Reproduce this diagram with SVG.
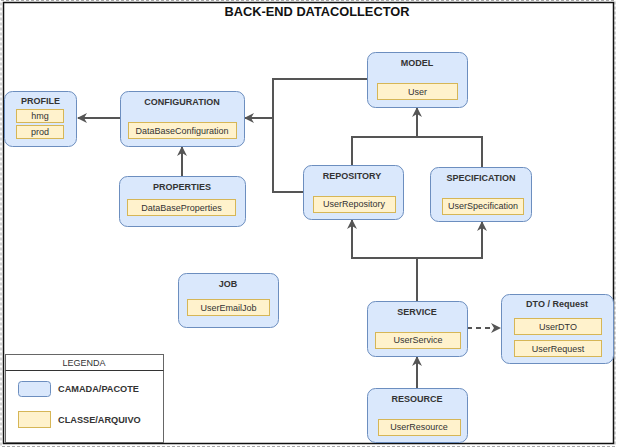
<svg xmlns="http://www.w3.org/2000/svg" width="617" height="448" viewBox="0 0 617 448">
<defs>
<style>
.pkg{fill:#dae8fc;stroke:#6c8ebf;stroke-width:1}
.cls{fill:#fff2cc;stroke:#d6b656;stroke-width:1}
.t{font-family:"Liberation Sans",Arial,sans-serif;font-size:9px;font-weight:bold;fill:#333;text-anchor:middle;dominant-baseline:central}
.c{font-family:"Liberation Sans",Arial,sans-serif;font-size:9px;fill:#333;text-anchor:middle;dominant-baseline:central}
.e{fill:none;stroke:#555;stroke-width:2}
</style>
<marker id="ah" viewBox="0 0 10 10" refX="9" refY="5" markerWidth="5" markerHeight="5" orient="auto" markerUnits="strokeWidth">
<path d="M0,0 L10,5 L0,10 L3,5 Z" fill="#555"/>
</marker>
</defs>
<rect x="0" y="0" width="617" height="448" fill="#fff"/>
<rect x="1" y="0.5" width="614" height="446" fill="none" stroke="#aaa" stroke-width="1" stroke-dasharray="3,2"/>
<rect x="3.5" y="2.5" width="610" height="441" fill="#fff" stroke="#111" stroke-width="1.5"/>
<text x="317" y="11" font-family="'Liberation Sans',Arial,sans-serif" font-size="12.8" font-weight="bold" fill="#111" text-anchor="middle" dominant-baseline="central">BACK-END DATACOLLECTOR</text>

<g id="connectors">
<path class="e" d="M120,118 L78,118" marker-end="url(#ah)"/>
<path class="e" d="M182,176 L182,147" marker-end="url(#ah)"/>
<path class="e" d="M367,79 L273,79 L273,192 L303,192"/>
<path class="e" d="M273,118 L245,118" marker-end="url(#ah)"/>
<path class="e" d="M352,165 L352,137 L482,137 L482,167"/>
<path class="e" d="M417,137 L417,108" marker-end="url(#ah)"/>
<path class="e" d="M417,301 L417,258 M352,258 L482,258"/>
<path class="e" d="M352,259 L352,220" marker-end="url(#ah)"/>
<path class="e" d="M482,259 L482,222" marker-end="url(#ah)"/>
<path class="e" d="M417,388 L417,357" marker-end="url(#ah)"/>
<path class="e" d="M467,328 L500,328" stroke-dasharray="5,4" marker-end="url(#ah)"/>
</g>

<g id="profile">
<rect class="pkg" x="4.5" y="91.5" width="72" height="55" rx="8"/>
<text class="t" x="40.5" y="101">PROFILE</text>
<rect class="cls" x="16.5" y="109.5" width="47" height="13"/>
<text class="c" x="40" y="116">hmg</text>
<rect class="cls" x="16.5" y="125.5" width="47" height="13"/>
<text class="c" x="40" y="132">prod</text>
</g>

<g id="configuration">
<rect class="pkg" x="120.5" y="91.5" width="124" height="55" rx="8"/>
<text class="t" x="182" y="102">CONFIGURATION</text>
<rect class="cls" x="128.5" y="122.5" width="108" height="16"/>
<text class="c" x="182" y="130.5">DataBaseConfiguration</text>
</g>

<g id="properties">
<rect class="pkg" x="119.5" y="176.5" width="126" height="50" rx="8"/>
<text class="t" x="182" y="187">PROPERTIES</text>
<rect class="cls" x="127.5" y="199.5" width="108" height="16"/>
<text class="c" x="181.5" y="207.5">DataBaseProperties</text>
</g>

<g id="model">
<rect class="pkg" x="367.5" y="52.5" width="100" height="55" rx="8"/>
<text class="t" x="417" y="63">MODEL</text>
<rect class="cls" x="377.5" y="83.5" width="80" height="16"/>
<text class="c" x="417.5" y="91.5">User</text>
</g>

<g id="repository">
<rect class="pkg" x="303.5" y="165.5" width="100" height="54" rx="8"/>
<text class="t" x="352" y="176">REPOSITORY</text>
<rect class="cls" x="313.5" y="196.5" width="82" height="16"/>
<text class="c" x="354" y="204">UserRepository</text>
</g>

<g id="specification">
<rect class="pkg" x="430.5" y="167.5" width="101" height="54" rx="8"/>
<text class="t" x="481" y="178">SPECIFICATION</text>
<rect class="cls" x="442.5" y="198.5" width="81" height="16"/>
<text class="c" x="483" y="206">UserSpecification</text>
</g>

<g id="job">
<rect class="pkg" x="178.5" y="273.5" width="100" height="54" rx="8"/>
<text class="t" x="228" y="284">JOB</text>
<rect class="cls" x="187.5" y="299.5" width="82" height="16"/>
<text class="c" x="228.5" y="307.5">UserEmailJob</text>
</g>

<g id="service">
<rect class="pkg" x="367.5" y="301.5" width="100" height="55" rx="8"/>
<text class="t" x="417" y="312">SERVICE</text>
<rect class="cls" x="375.5" y="332.5" width="85" height="16"/>
<text class="c" x="418" y="340">UserService</text>
</g>

<g id="dto">
<rect class="pkg" x="501.5" y="294.5" width="112" height="69" rx="8"/>
<text class="t" x="557" y="304">DTO / Request</text>
<rect class="cls" x="514.5" y="318.5" width="87" height="16"/>
<text class="c" x="558" y="326.5">UserDTO</text>
<rect class="cls" x="514.5" y="340.5" width="87" height="16"/>
<text class="c" x="558" y="348.5">UserRequest</text>
</g>

<g id="resource">
<rect class="pkg" x="367.5" y="388.5" width="100" height="54" rx="8"/>
<text class="t" x="417" y="399">RESOURCE</text>
<rect class="cls" x="378.5" y="419.5" width="82" height="16"/>
<text class="c" x="419" y="427">UserResource</text>
</g>

<g id="legend">
<rect x="5.5" y="354.5" width="158" height="88" fill="#fff" stroke="#666" stroke-width="1"/>
<line x1="5.5" y1="370.5" x2="163.5" y2="370.5" stroke="#333" stroke-width="1"/>
<text class="c" x="84" y="362.5" font-size="9">LEGENDA</text>
<rect class="pkg" x="18.5" y="381.5" width="32" height="15" rx="3"/>
<text x="58" y="389" font-family="'Liberation Sans',Arial,sans-serif" font-size="9.2" font-weight="bold" fill="#333" dominant-baseline="central">CAMADA/PACOTE</text>
<rect class="cls" x="18.5" y="411.5" width="32" height="16"/>
<text x="58" y="419.5" font-family="'Liberation Sans',Arial,sans-serif" font-size="9.2" font-weight="bold" fill="#333" dominant-baseline="central">CLASSE/ARQUIVO</text>
</g>
</svg>
